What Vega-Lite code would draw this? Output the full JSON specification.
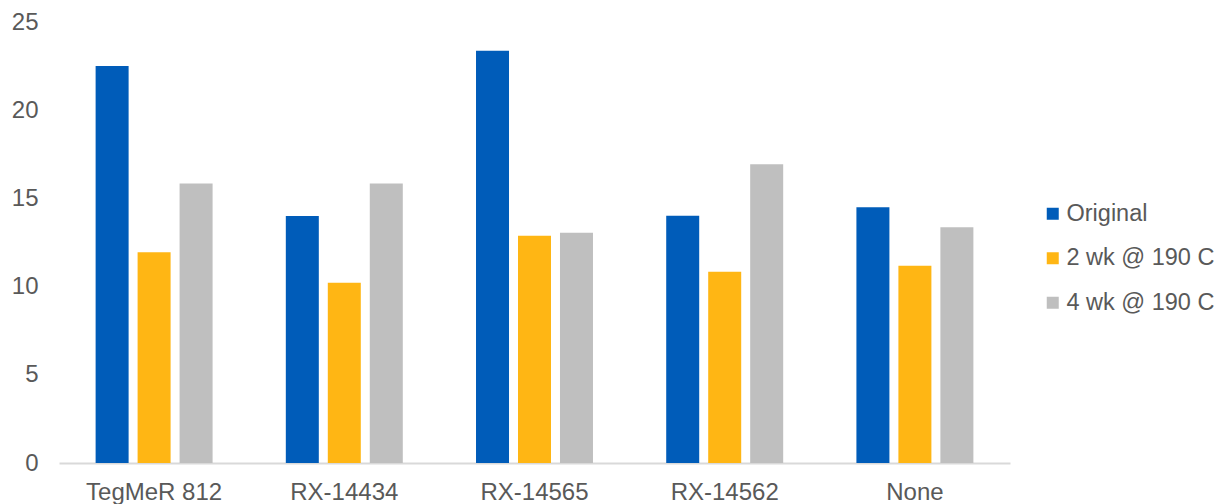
{
  "$schema": "https://vega.github.io/schema/vega-lite/v6.json",
  "width": 951,
  "height": 441,
  "autosize": {"type": "none"},
  "padding": {"left": 59, "top": 22, "right": 213, "bottom": 41},
  "background": "white",
  "config": {
    "view": {"stroke": null},
    "font": "Liberation Sans"
  },
  "data": {
    "values": [
      {"sample": "TegMeR 812", "condition": "Original", "value": 22.5},
      {"sample": "TegMeR 812", "condition": "2 wk @ 190 C", "value": 11.95},
      {"sample": "TegMeR 812", "condition": "4 wk @ 190 C", "value": 15.85},
      {"sample": "RX-14434", "condition": "Original", "value": 14.0},
      {"sample": "RX-14434", "condition": "2 wk @ 190 C", "value": 10.22},
      {"sample": "RX-14434", "condition": "4 wk @ 190 C", "value": 15.85},
      {"sample": "RX-14565", "condition": "Original", "value": 23.37},
      {"sample": "RX-14565", "condition": "2 wk @ 190 C", "value": 12.88},
      {"sample": "RX-14565", "condition": "4 wk @ 190 C", "value": 13.05},
      {"sample": "RX-14562", "condition": "Original", "value": 14.02},
      {"sample": "RX-14562", "condition": "2 wk @ 190 C", "value": 10.84},
      {"sample": "RX-14562", "condition": "4 wk @ 190 C", "value": 16.93},
      {"sample": "None", "condition": "Original", "value": 14.5},
      {"sample": "None", "condition": "2 wk @ 190 C", "value": 11.18},
      {"sample": "None", "condition": "4 wk @ 190 C", "value": 13.36}
    ]
  },
  "mark": {"type": "bar"},
  "encoding": {
    "x": {
      "field": "sample",
      "type": "nominal",
      "sort": ["TegMeR 812", "RX-14434", "RX-14565", "RX-14562", "None"],
      "scale": {"paddingInner": 0.385, "paddingOuter": 0.1925},
      "axis": {
        "title": null,
        "labelAngle": 0,
        "labelFontSize": 24,
        "labelColor": "#595959",
        "labelPadding": 17,
        "ticks": false,
        "domainColor": "#d9d9d9",
        "domainWidth": 2
      }
    },
    "xOffset": {
      "field": "condition",
      "type": "nominal",
      "sort": ["Original", "2 wk @ 190 C", "4 wk @ 190 C"],
      "scale": {"paddingInner": 0.214, "paddingOuter": 0}
    },
    "y": {
      "field": "value",
      "type": "quantitative",
      "scale": {"domain": [0, 25], "nice": false},
      "axis": {
        "title": null,
        "values": [0, 5, 10, 15, 20, 25],
        "grid": false,
        "domain": false,
        "ticks": false,
        "labelFontSize": 24,
        "labelColor": "#595959",
        "labelPadding": 21
      }
    },
    "color": {
      "field": "condition",
      "type": "nominal",
      "sort": ["Original", "2 wk @ 190 C", "4 wk @ 190 C"],
      "scale": {
        "domain": ["Original", "2 wk @ 190 C", "4 wk @ 190 C"],
        "range": ["#005CB9", "#FFB614", "#BFBFBF"]
      },
      "legend": {
        "title": null,
        "orient": "none",
        "legendX": 982,
        "legendY": 180,
        "symbolType": "square",
        "symbolSize": 144,
        "symbolStrokeWidth": 0,
        "labelFontSize": 23.5,
        "labelColor": "#595959",
        "labelOffset": 2,
        "rowPadding": 19.5
      }
    }
  }
}
